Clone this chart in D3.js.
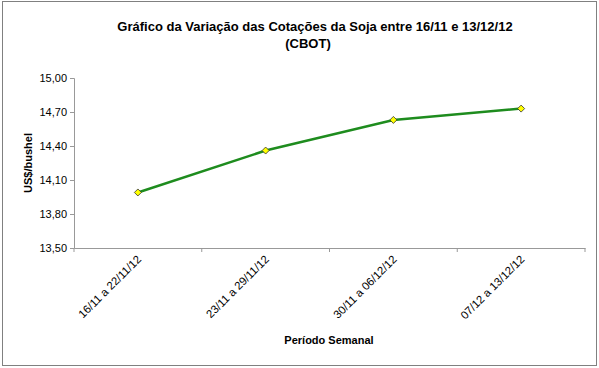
<!DOCTYPE html>
<html>
<head>
<meta charset="utf-8">
<script src="https://cdn.jsdelivr.net/npm/d3@7"></script>
<style>
  body { margin: 0; background: #fff; }
  svg { display: block; font-family: "Liberation Sans", Arial, sans-serif; }
</style>
</head>
<body>
<div id="chart"></div>
<script>
// weekly periods and soybean quotes (US$/bushel)
const periods = ['16/11 a 22/11/12', '23/11 a 29/11/12', '30/11 a 06/12/12', '07/12 a 13/12/12'];
const quotes = [13.99, 14.36, 14.63, 14.73];
const yTicks = [13.5, 13.8, 14.1, 14.4, 14.7, 15.0];

const width = 599, height = 368;
const margin = { top: 78, right: 14, bottom: 120, left: 74 };

const svg = d3.select('#chart')
  .append('svg')
  .attr('width', width)
  .attr('height', height);

// outer frame
svg.append('rect')
  .attr('x', 2.5).attr('y', 1.5)
  .attr('width', 594).attr('height', 364)
  .attr('fill', 'none')
  .attr('stroke', '#808080');

const chart = svg.append('g')
  .attr('transform', `translate(${margin.left},${margin.top})`);

const w = width - margin.left - margin.right;
const h = height - margin.top - margin.bottom;

const x = d3.scaleBand().domain(periods).range([0, w]);
const y = d3.scaleLinear().domain([13.5, 15.0]).range([h, 0]);

const fmt = d => d3.format('.2f')(d).replace('.', ',');

// y axis
const yAxis = chart.append('g')
  .call(d3.axisLeft(y).tickValues(yTicks).tickFormat(fmt).tickSizeOuter(0).tickSize(4).tickPadding(3));
yAxis.selectAll('text').attr('font-size', 11).attr('fill', '#000').attr('font-family', '"Liberation Sans", Arial, sans-serif');

// x axis
const xAxis = chart.append('g')
  .attr('transform', `translate(0,${h})`)
  .call(d3.axisBottom(x).tickSize(0).tickSizeOuter(0));
xAxis.selectAll('text')
  .attr('font-size', 11.3)
  .attr('fill', '#000')
  .attr('font-family', '"Liberation Sans", Arial, sans-serif')
  .attr('text-anchor', 'end')
  .attr('dy', 0)
  .attr('y', 0)
  .attr('transform', 'translate(4,12) rotate(-45)');

// category boundary ticks
const bounds = periods.map(p => x(p)).concat([w]);
chart.selectAll('.xtick')
  .data(bounds)
  .join('line')
  .attr('class', 'xtick')
  .attr('x1', d => d).attr('x2', d => d)
  .attr('y1', h).attr('y2', h + 4)
  .attr('stroke', '#999');

chart.selectAll('.domain, .tick line').attr('stroke', '#999');

// line
const line = d3.line()
  .x((d, i) => x(periods[i]) + x.bandwidth() / 2)
  .y(d => y(d));

chart.append('path')
  .datum(quotes)
  .attr('d', line)
  .attr('fill', 'none')
  .attr('stroke', '#1e8c1e')
  .attr('stroke-width', 2.5);

// diamond markers
chart.selectAll('.marker')
  .data(quotes)
  .join('path')
  .attr('class', 'marker')
  .attr('d', 'M0,-3.5L3.5,0L0,3.5L-3.5,0Z')
  .attr('transform', (d, i) => `translate(${x(periods[i]) + x.bandwidth() / 2},${y(d)})`)
  .attr('fill', '#ffff00')
  .attr('stroke', '#333')
  .attr('stroke-width', 0.8);

// titles
svg.append('text')
  .attr('x', 315).attr('y', 31)
  .attr('text-anchor', 'middle')
  .attr('font-size', 13).attr('font-weight', 'bold')
  .text('Gráfico da Variação das Cotações da Soja entre 16/11 e 13/12/12');
svg.append('text')
  .attr('x', 308).attr('y', 48)
  .attr('text-anchor', 'middle')
  .attr('font-size', 13).attr('font-weight', 'bold')
  .text('(CBOT)');

svg.append('text')
  .attr('transform', 'translate(32,163) rotate(-90)')
  .attr('text-anchor', 'middle')
  .attr('font-size', 11).attr('font-weight', 'bold')
  .text('US$/bushel');

svg.append('text')
  .attr('x', 329).attr('y', 344)
  .attr('text-anchor', 'middle')
  .attr('font-size', 11).attr('font-weight', 'bold')
  .text('Período Semanal');
</script>
</body>
</html>
